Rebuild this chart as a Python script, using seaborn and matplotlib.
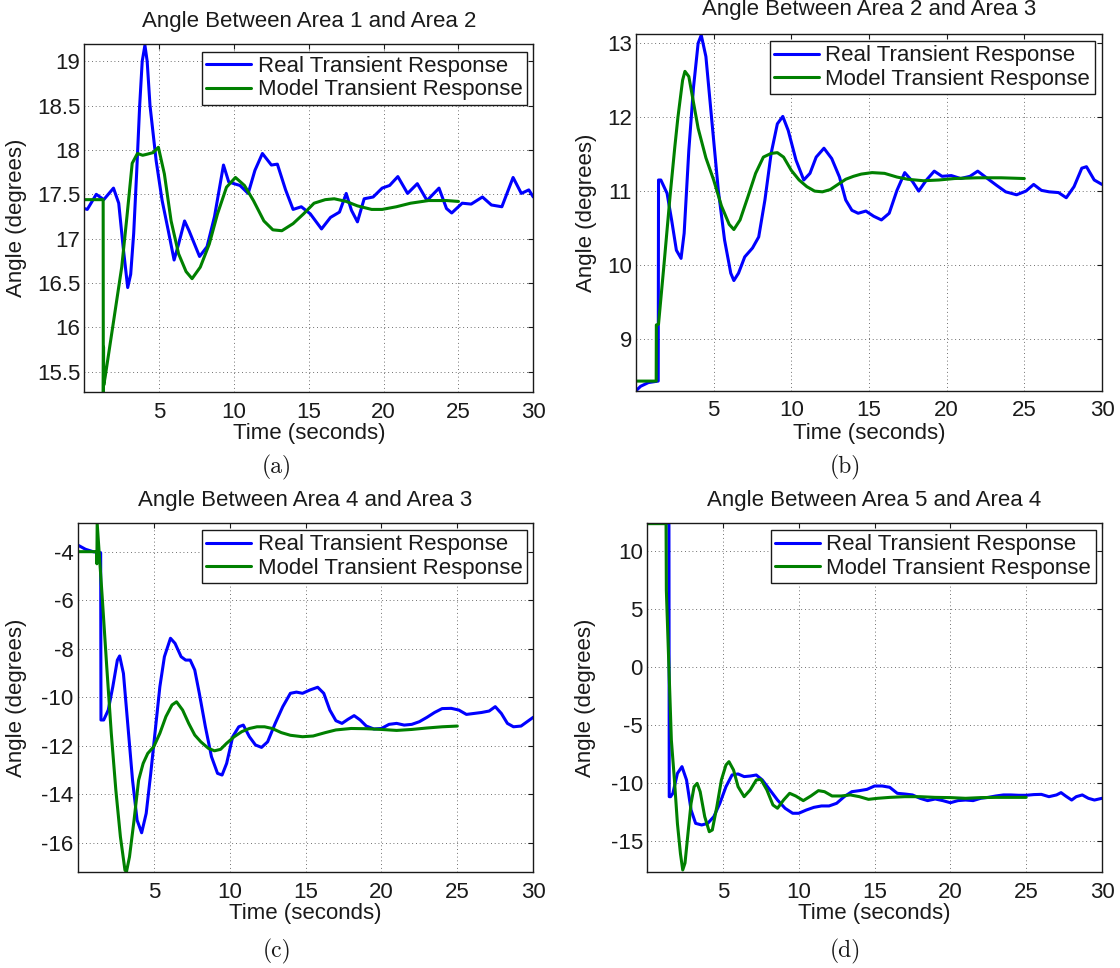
import numpy as np
import pandas as pd
import matplotlib
matplotlib.use("Agg")
import matplotlib.pyplot as plt
import seaborn as sns

# ---------------- data ----------------
titles = ["Angle Between Area 1 and Area 2", "Angle Between Area 2 and Area 3",
          "Angle Between Area 4 and Area 3", "Angle Between Area 5 and Area 4"]
captions = ["(a)", "(b)", "(c)", "(d)"]
series_names = ["Real Transient Response", "Model Transient Response"]
x_ticks = [5, 10, 15, 20, 25, 30]

# (a)
a_real_t = [0.0, 0.2, 0.8, 1.3, 1.95, 2.3, 2.6, 2.9, 3.1, 3.3, 3.5, 3.7, 3.87, 4.05, 4.2, 4.39,
            4.8, 5.2, 5.6, 6.0, 6.3, 6.7, 7.0, 7.7, 8.2, 8.7, 9.3, 9.65, 10.0, 10.4, 10.95,
            11.4, 11.9, 12.5, 12.9, 13.45, 13.95, 14.5, 15.1, 15.85, 16.45, 17.05, 17.5, 17.85,
            18.25, 18.7, 19.3, 19.9, 20.4, 20.95, 21.6, 22.25, 22.9, 23.7, 24.2, 24.55, 25.25,
            25.85, 26.6, 27.2, 27.9, 28.65, 29.2, 29.7, 30.0]
a_real_y = [17.34, 17.33, 17.5, 17.44, 17.57, 17.4, 16.9, 16.45, 16.6, 17.06, 17.75, 18.5,
            19.0, 19.18, 19.0, 18.5, 17.88, 17.43, 17.1, 16.76, 16.94, 17.2, 17.09, 16.8,
            16.91, 17.25, 17.83, 17.64, 17.62, 17.6, 17.51, 17.77, 17.96, 17.83, 17.84, 17.55,
            17.33, 17.36, 17.28, 17.11, 17.24, 17.3, 17.51, 17.32, 17.19, 17.45, 17.47, 17.57,
            17.6, 17.7, 17.51, 17.62, 17.43, 17.57, 17.34, 17.29, 17.4, 17.39, 17.47, 17.38,
            17.36, 17.69, 17.51, 17.55, 17.47]
a_model_t = [0.0, 1.26, 1.27, 1.285, 1.3, 1.4, 2.0, 2.5, 2.85, 3.2, 3.55, 3.9, 4.15, 4.6, 4.95,
             5.35, 5.8, 6.3, 6.8, 7.2, 7.75, 8.35, 8.9, 9.5, 10.1, 10.7, 11.3, 12.0, 12.6, 13.2,
             13.95, 14.65, 15.35, 16.1, 16.7, 17.5, 18.25, 19.2, 19.9, 20.85, 21.8, 23.0, 24.2, 25.0]
a_model_y = [17.44, 17.44, 15.27, 15.78, 15.35, 15.45, 16.12, 16.68, 17.25, 17.85, 17.96, 17.94,
             17.95, 17.97, 18.03, 17.73, 17.2, 16.83, 16.63, 16.55, 16.68, 16.94, 17.28, 17.58,
             17.69, 17.6, 17.43, 17.2, 17.1, 17.09, 17.17, 17.28, 17.4, 17.44, 17.45, 17.42,
             17.37, 17.33, 17.33, 17.36, 17.4, 17.43, 17.43, 17.42]

# (b)
b_real_t = [0.0, 0.3, 0.8, 1.43, 1.45, 1.6, 2.0, 2.3, 2.6, 2.9, 3.1, 3.4, 3.7, 4.0, 4.2, 4.5,
            4.9, 5.3, 5.7, 6.1, 6.3, 6.6, 7.0, 7.5, 7.9, 8.3, 8.7, 9.1, 9.45, 9.8, 10.3, 10.8,
            11.2, 11.6, 12.1, 12.6, 13.1, 13.5, 13.9, 14.3, 14.8, 15.3, 15.8, 16.3, 16.8, 17.3,
            17.8, 18.2, 18.7, 19.2, 19.7, 20.3, 20.9, 21.5, 22.0, 22.5, 23.2, 23.8, 24.5, 25.1,
            25.6, 26.1, 26.6, 27.2, 27.7, 28.2, 28.7, 29.0, 29.5, 30.0]
b_real_y = [8.30, 8.36, 8.41, 8.43, 11.15, 11.15, 10.97, 10.6, 10.2, 10.09, 10.43, 11.55, 12.4,
            13.0, 13.11, 12.82, 11.91, 11.01, 10.34, 9.89, 9.79, 9.89, 10.11, 10.23, 10.38,
            10.88, 11.51, 11.91, 12.01, 11.82, 11.42, 11.15, 11.24, 11.46, 11.58, 11.44, 11.19,
            10.88, 10.74, 10.70, 10.73, 10.66, 10.61, 10.70, 11.01, 11.25, 11.13, 11.0, 11.15,
            11.27, 11.2, 11.21, 11.17, 11.2, 11.27, 11.19, 11.08, 10.99, 10.95, 11.0, 11.09,
            11.01, 10.99, 10.98, 10.91, 11.06, 11.31, 11.33, 11.15, 11.09]
b_model_t = [0.0, 1.3, 1.31, 1.45, 1.8, 2.2, 2.5, 2.7, 3.0, 3.15, 3.4, 3.7, 4.0, 4.5, 5.0, 5.5,
             6.0, 6.3, 6.7, 7.2, 7.7, 8.2, 8.7, 9.1, 9.5, 10.0, 10.5, 11.0, 11.5, 12.0, 12.5,
             13.0, 13.5, 14.0, 14.5, 15.2, 16.0, 16.8, 17.5, 18.5, 19.5, 20.5, 22.0, 23.5, 25.0]
b_model_y = [8.43, 8.43, 9.19, 9.2, 10.0, 10.95, 11.6, 12.0, 12.5, 12.62, 12.55, 12.2, 11.85,
             11.45, 11.15, 10.8, 10.55, 10.48, 10.61, 10.92, 11.24, 11.46, 11.51, 11.52, 11.46,
             11.28, 11.15, 11.06, 11.0, 10.99, 11.02, 11.09, 11.16, 11.2, 11.23, 11.25, 11.24,
             11.19, 11.16, 11.14, 11.15, 11.17, 11.18, 11.18, 11.17]

# (c)
c_real_t = [0.0, 0.5, 1.0, 1.5, 1.52, 1.7, 2.0, 2.3, 2.6, 2.75, 3.0, 3.3, 3.6, 3.9, 4.2, 4.5,
            4.8, 5.1, 5.4, 5.7, 6.1, 6.4, 6.8, 7.1, 7.4, 7.7, 8.0, 8.4, 8.8, 9.2, 9.5, 9.8,
            10.2, 10.6, 10.9, 11.3, 11.7, 12.1, 12.5, 13.0, 13.5, 14.0, 14.4, 14.8, 15.3, 15.8,
            16.2, 16.6, 17.0, 17.4, 17.8, 18.2, 18.6, 19.0, 19.5, 20.0, 20.5, 21.0, 21.5, 22.0,
            22.5, 23.0, 23.5, 24.0, 24.6, 25.1, 25.6, 26.1, 26.6, 27.1, 27.5, 27.9, 28.3, 28.7,
            29.2, 29.6, 30.0]
c_real_y = [-3.73, -3.9, -4.0, -4.04, -10.94, -10.94, -10.53, -9.57, -8.47, -8.3, -9.02,
            -11.22, -13.42, -15.07, -15.59, -14.79, -13.14, -11.35, -9.57, -8.33, -7.57, -7.78,
            -8.33, -8.47, -8.47, -8.88, -9.84, -11.22, -12.45, -13.14, -13.21, -12.73, -11.63,
            -11.22, -11.15, -11.63, -11.97, -12.07, -11.84, -11.08, -10.39, -9.84, -9.79, -9.84,
            -9.7, -9.59, -9.84, -10.53, -10.97, -11.08, -10.91, -10.76, -10.94, -11.19, -11.31,
            -11.29, -11.12, -11.08, -11.15, -11.12, -11.01, -10.83, -10.63, -10.47, -10.46,
            -10.53, -10.71, -10.67, -10.63, -10.57, -10.39, -10.67, -11.08, -11.22, -11.19,
            -11.01, -10.83]
c_model_t = [0.0, 1.24, 1.25, 1.27, 1.6, 1.9, 2.2, 2.5, 2.8, 3.1, 3.2, 3.4, 3.7, 4.0, 4.3, 4.6,
             5.0, 5.4, 5.8, 6.2, 6.5, 6.9, 7.3, 7.7, 8.1, 8.6, 9.0, 9.4, 9.8, 10.3, 10.8, 11.3,
             11.8, 12.3, 12.8, 13.4, 14.0, 14.8, 15.5, 16.3, 17.0, 18.0, 19.0, 20.0, 21.0, 22.0,
             23.0, 24.0, 25.0]
c_model_y = [-4.0, -4.0, -4.5, -2.83, -5.86, -8.74, -11.49, -13.83, -15.75, -17.13, -17.2,
             -16.58, -15.07, -13.42, -12.73, -12.32, -12.04, -11.49, -10.8, -10.32, -10.19,
             -10.53, -11.08, -11.56, -11.84, -12.11, -12.21, -12.15, -11.9, -11.63, -11.42,
             -11.29, -11.22, -11.22, -11.29, -11.46, -11.57, -11.63, -11.6, -11.46, -11.35,
             -11.29, -11.3, -11.33, -11.37, -11.33, -11.27, -11.22, -11.19]

# (d)
d_real_t = [0.0, 1.44, 1.46, 1.55, 1.7, 2.0, 2.3, 2.6, 2.9, 3.2, 3.6, 4.0, 4.4, 4.8, 5.2, 5.6,
            6.0, 6.4, 6.8, 7.2, 7.6, 8.1, 8.6, 9.1, 9.6, 10.0, 10.5, 11.0, 11.5, 12.0, 12.5,
            13.0, 13.5, 14.0, 14.5, 15.0, 15.5, 16.0, 16.5, 17.0, 17.5, 18.0, 18.5, 19.0, 19.5,
            20.0, 20.5, 21.0, 21.5, 22.0, 22.5, 23.0, 23.5, 24.0, 24.5, 25.0, 25.5, 26.0, 26.5,
            27.0, 27.3, 27.6, 28.0, 28.3, 28.7, 29.1, 29.5, 30.0]
d_real_y = [12.39, 12.39, -11.18, -11.18, -10.89, -9.17, -8.59, -9.74, -12.33, -13.48, -13.62,
            -13.48, -12.9, -11.75, -10.32, -9.31, -9.22, -9.45, -9.4, -9.31, -9.74, -10.6,
            -11.47, -12.18, -12.61, -12.61, -12.33, -12.1, -11.98, -11.98, -11.75, -11.18,
            -10.75, -10.66, -10.55, -10.26, -10.26, -10.37, -10.89, -10.95, -11.03, -11.32,
            -11.52, -11.38, -11.52, -11.7, -11.52, -11.47, -11.52, -11.32, -11.24, -11.12,
            -11.03, -11.03, -11.06, -11.06, -11.0, -10.98, -11.18, -11.03, -10.83, -11.12,
            -11.47, -11.18, -11.03, -11.32, -11.47, -11.32]
d_model_t = [0.0, 1.25, 1.27, 1.4, 1.6, 1.8, 2.0, 2.2, 2.35, 2.5, 2.7, 2.9, 3.1, 3.3, 3.5, 3.8,
             4.1, 4.3, 4.6, 4.9, 5.2, 5.4, 5.7, 6.0, 6.4, 6.8, 7.2, 7.5, 7.9, 8.3, 8.6, 9.0,
             9.4, 9.8, 10.3, 10.8, 11.3, 11.7, 12.2, 12.8, 13.4, 14.0, 14.6, 15.2, 16.0, 17.0,
             18.0, 19.0, 20.0, 21.0, 22.0, 23.0, 24.0, 25.0]
d_model_y = [12.36, 12.36, 6.6, 1.5, -6.3, -9.7, -13.5, -16.1, -17.5, -16.9, -14.3, -11.75,
             -10.32, -10.03, -10.75, -12.9, -14.2, -14.05, -12.04, -9.74, -8.45, -8.16, -8.88,
             -10.32, -11.18, -10.6, -9.74, -9.68, -10.6, -11.9, -12.18, -11.47, -10.89, -11.12,
             -11.52, -11.12, -10.66, -10.75, -11.12, -11.12, -11.03, -11.18, -11.41, -11.32,
             -11.24, -11.18, -11.18, -11.24, -11.26, -11.32, -11.26, -11.24, -11.24, -11.24]

y_limits = [(15.27, 19.19), (8.30, 13.125), (-17.22, -2.83), (-17.7, 12.39)]
y_ticks = [[15.5, 16, 16.5, 17, 17.5, 18, 18.5, 19],
           [9, 10, 11, 12, 13],
           [-16, -14, -12, -10, -8, -6, -4],
           [-15, -10, -5, 0, 5, 10]]
y_ticklabels = [["15.5", "16", "16.5", "17", "17.5", "18", "18.5", "19"],
                ["9", "10", "11", "12", "13"],
                ["-16", "-14", "-12", "-10", "-8", "-6", "-4"],
                ["-15", "-10", "-5", "0", "5", "10"]]

real_series = [(a_real_t, a_real_y), (b_real_t, b_real_y), (c_real_t, c_real_y), (d_real_t, d_real_y)]
model_series = [(a_model_t, a_model_y), (b_model_t, b_model_y), (c_model_t, c_model_y), (d_model_t, d_model_y)]

# ---------------- style / layout ----------------
sns.set_theme(style="white")
plt.rcParams["font.family"] = ["Liberation Sans", "DejaVu Sans"]
plt.rcParams["axes.unicode_minus"] = False

W, H = 1120, 968
FS = 16
# axes boxes in pixels: left, top, right, bottom
boxes = [(84.3, 44.3, 533.3, 392.3), (636, 34, 1102, 390.7),
         (77.9, 523.3, 533.2, 872.3), (647.1, 523.3, 1102, 872.3)]
title_pads = [12.7, 13.7, 12.5, 12.5]
legend_anchor = [(0.9855, 0.9787), (0.9841, 0.9804), (0.9859, 0.9808), (0.9861, 0.9808)]
xlabel_y = [-0.089, -0.091, -0.089, -0.089]
ylabel_x = [-0.128, -0.083, -0.112, -0.113]
caption_pos = [(277, 467), (845, 467), (277, 951), (845, 951)]

fig = plt.figure(figsize=(W / 100, H / 100), dpi=100)

line_kw = dict(linewidth=2.2, estimator=None, sort=False, legend=False,
               solid_joinstyle="round", solid_capstyle="round")

for i in range(4):
    l, t, r, b = boxes[i]
    ax = fig.add_axes([l / W, 1 - b / H, (r - l) / W, (b - t) / H])
    df_r = pd.DataFrame({"Time": real_series[i][0], "Angle": real_series[i][1]})
    df_m = pd.DataFrame({"Time": model_series[i][0], "Angle": model_series[i][1]})
    sns.lineplot(data=df_r, x="Time", y="Angle", ax=ax, color="#0000FF",
                 label=series_names[0], **line_kw)
    sns.lineplot(data=df_m, x="Time", y="Angle", ax=ax, color="#008000",
                 label=series_names[1], **line_kw)
    ax.set_xlim(0, 30)
    ax.set_ylim(*y_limits[i])
    ax.set_xticks(x_ticks)
    ax.set_xticklabels([str(v) for v in x_ticks])
    ax.set_yticks(y_ticks[i])
    ax.set_yticklabels(y_ticklabels[i])
    ax.grid(True, color="#404040", linestyle=(0, (1, 3.5)), linewidth=0.6)
    ax.set_axisbelow(True)
    ax.tick_params(axis="both", direction="in", length=3.6, width=0.8, colors="k",
                   top=True, right=True, labelsize=FS)
    ax.tick_params(axis="x", pad=6.8)
    ax.tick_params(axis="y", pad=3.0)
    for sp in ax.spines.values():
        sp.set_visible(True)
        sp.set_color("k")
        sp.set_linewidth(1.0)
    ax.set_title(titles[i], fontsize=FS, pad=title_pads[i], color="k")
    ax.set_xlabel("Time (seconds)", fontsize=FS, color="k")
    ax.set_ylabel("Angle (degrees)", fontsize=FS, color="k")
    ax.xaxis.set_label_coords(0.5, xlabel_y[i])
    ax.yaxis.set_label_coords(ylabel_x[i], 0.5)
    leg = ax.legend(loc="upper right", bbox_to_anchor=legend_anchor[i], borderaxespad=0,
                    fontsize=FS, frameon=True, fancybox=False, framealpha=1,
                    edgecolor="k", borderpad=0.2, labelspacing=0.1,
                    handlelength=2.0, handletextpad=0.3)
    leg.get_frame().set_linewidth(1.0)
    for txt in leg.get_texts():
        txt.set_color("k")
    cx, cy = caption_pos[i]
    fig.text(cx / W, 1 - cy / H, captions[i], ha="center", va="center",
             family="cmr10", fontsize=17, color="k")

fig.savefig("out.png", dpi=100)
